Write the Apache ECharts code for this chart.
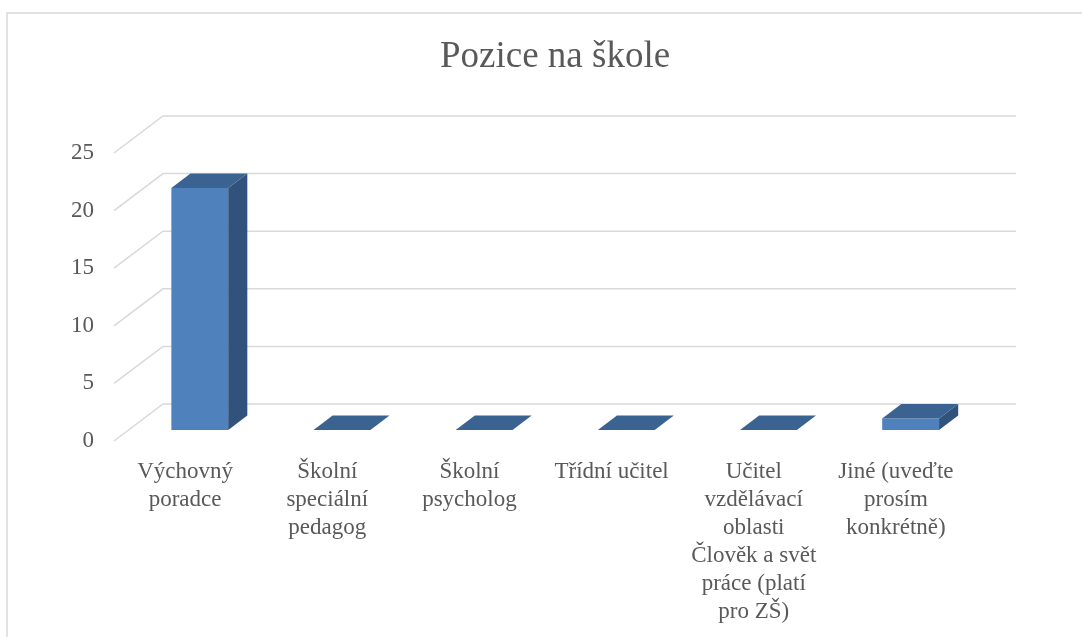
<!DOCTYPE html>
<html>
<head>
<meta charset="utf-8">
<script src="https://cdn.jsdelivr.net/npm/echarts@6/dist/echarts.min.js"></script>
<style>
  html, body { margin: 0; padding: 0; background: #fff; }
  #chart { width: 1082px; height: 637px; }
</style>
</head>
<body>
<div id="chart"></div>
<script>
// data
const categories = [
  'Výchovný\nporadce',
  'Školní\nspeciální\npedagog',
  'Školní\npsycholog',
  'Třídní učitel',
  'Učitel\nvzdělávací\noblasti\nČlověk a svět\npráce (platí\npro ZŠ)',
  'Jiné (uveďte\nprosím\nkonkrétně)',
];
const counts = [21, 0, 0, 0, 0, 1];
const yTicks = [0, 5, 10, 15, 20, 25];

// fake 3D: depth of the floor and where the bars sit inside it
const DX = 49, DY = -37;
const BAR_FRONT = 0.3, BAR_DEPTH = 0.39, BAR_WIDTH = 0.4;
const FONT = 'Liberation Serif';

const chart = echarts.init(document.getElementById('chart'));

function renderGridLine(params, api) {
  const cs = params.coordSys;
  const y = api.coord([0, api.value(1)])[1];
  return {
    type: 'polyline',
    shape: { points: [[cs.x, y], [cs.x + DX, y + DY], [cs.x + cs.width + DX, y + DY]] },
    style: { stroke: '#D9D9D9', lineWidth: 1.5, fill: null },
    silent: true,
  };
}

function renderBar(params, api) {
  const i = api.value(0);
  const base = api.coord([i, 0]);
  const top = api.coord([i, api.value(1)]);
  const band = api.size([1, 0])[0];
  const w = band * BAR_WIDTH;
  const x0 = base[0] + BAR_FRONT * DX - w / 2;
  const x1 = x0 + w;
  const yb = base[1] + BAR_FRONT * DY;
  const yt = top[1] + BAR_FRONT * DY;
  const ddx = BAR_DEPTH * DX, ddy = BAR_DEPTH * DY;
  const children = [];
  if (yb - yt > 0.5) {
    children.push({
      type: 'rect',
      shape: { x: x0, y: yt, width: w, height: yb - yt },
      style: { fill: '#4F81BD' },
    });
    children.push({
      type: 'polygon',
      shape: { points: [[x1, yt], [x1 + ddx, yt + ddy], [x1 + ddx, yb + ddy], [x1, yb]] },
      style: { fill: '#31527B' },
    });
  }
  children.push({
    type: 'polygon',
    shape: { points: [[x0, yt], [x1, yt], [x1 + ddx, yt + ddy], [x0 + ddx, yt + ddy]] },
    style: { fill: '#3A6392' },
  });
  return { type: 'group', children };
}

chart.setOption({
  animation: false,
  backgroundColor: '#fff',
  textStyle: { fontFamily: FONT },
  title: {
    text: 'Pozice na škole',
    left: 435,
    top: 34,
    textStyle: { fontFamily: FONT, fontSize: 37, fontWeight: 'normal', color: '#595959' },
  },
  graphic: [{
    type: 'rect',
    shape: { x: 7, y: 13, width: 1200, height: 800 },
    style: { fill: null, stroke: '#D9D9D9', lineWidth: 1.5 },
    silent: true,
  }],
  grid: { left: 114, right: 115, top: 153, bottom: 196 },
  xAxis: {
    type: 'category',
    data: categories,
    axisLine: { show: false },
    axisTick: { show: false },
    axisLabel: {
      interval: 0,
      margin: 17,
      fontFamily: FONT,
      fontSize: 23,
      lineHeight: 28,
      color: '#595959',
      align: 'center',
    },
  },
  yAxis: {
    type: 'value',
    min: 0,
    max: 25,
    interval: 5,
    axisLine: { show: false },
    axisTick: { show: false },
    splitLine: { show: false },
    axisLabel: { margin: 20, fontFamily: FONT, fontSize: 23, color: '#595959' },
  },
  series: [
    {
      type: 'custom',
      renderItem: renderGridLine,
      data: yTicks.map((v) => [0, v]),
      encode: { x: 0, y: 1 },
      z: 1,
    },
    {
      type: 'custom',
      renderItem: renderBar,
      data: counts.map((v, i) => [i, v]),
      encode: { x: 0, y: 1 },
      z: 2,
    },
  ],
});
</script>
</body>
</html>
